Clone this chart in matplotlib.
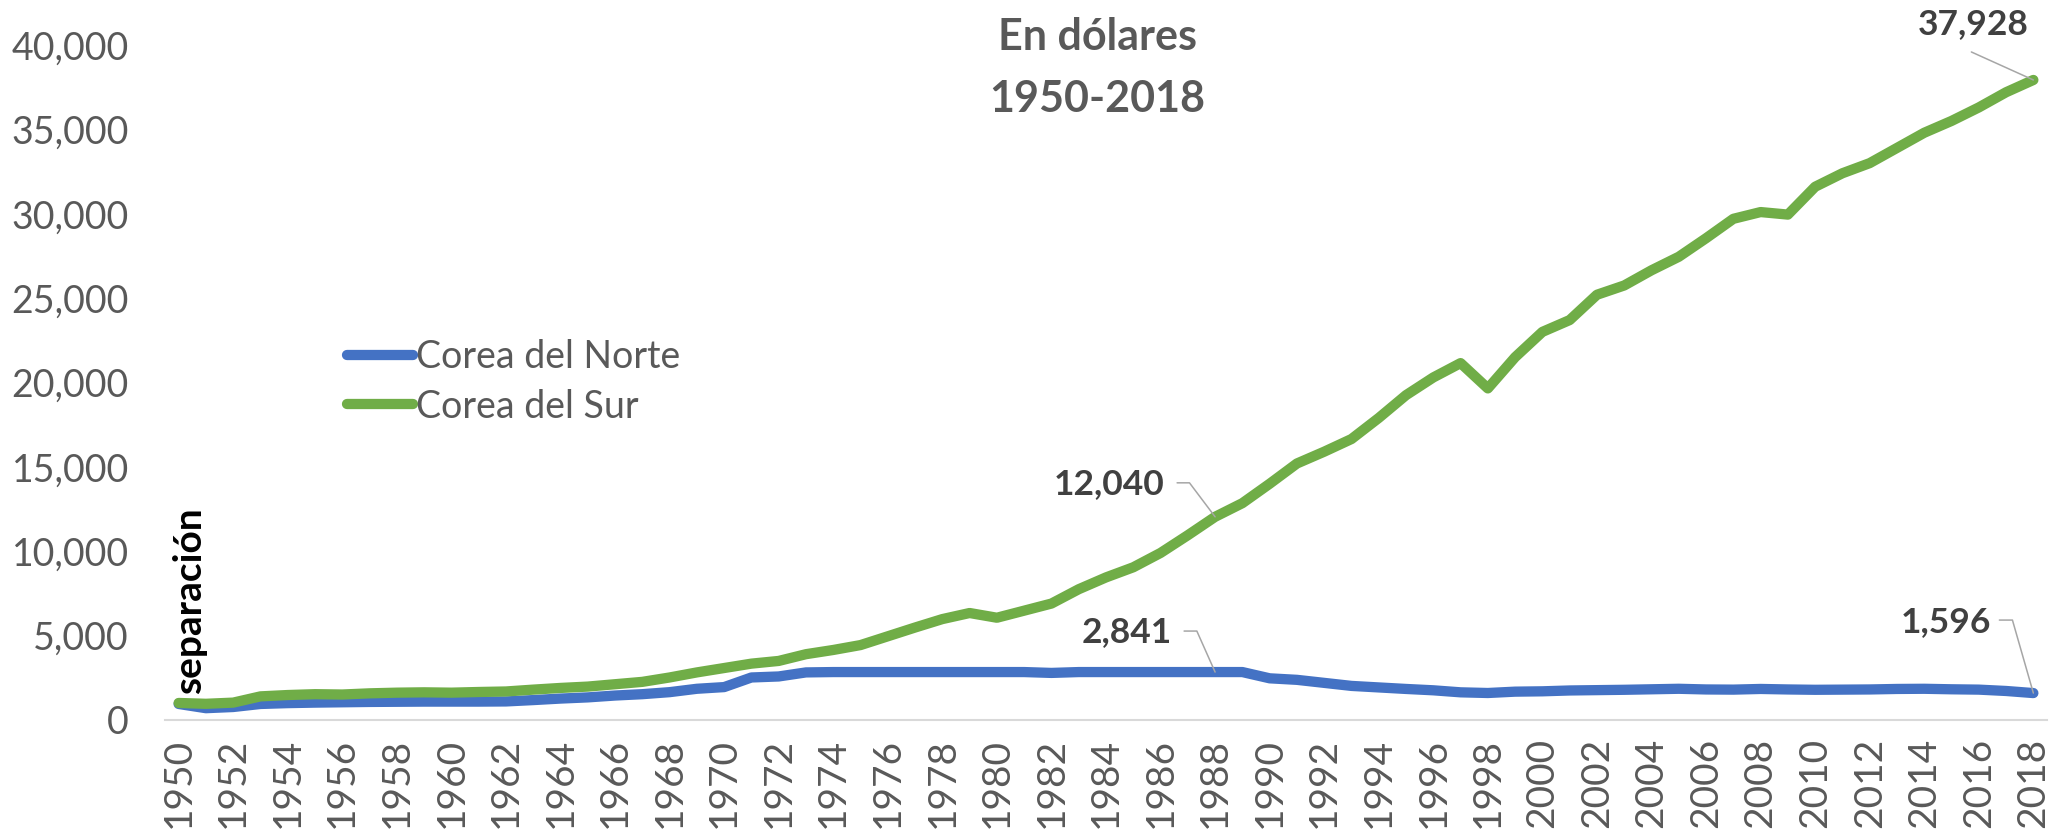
import matplotlib as mpl
mpl.use('Agg')
import matplotlib.pyplot as plt
from matplotlib.ticker import FuncFormatter

plt.rcParams['font.family'] = ['Lato', 'DejaVu Sans']

# PIB per capita, Corea del Norte vs Corea del Sur, 1950-2018
years = list(range(1950, 2019))

norte = [950, 700, 770, 950, 1000, 1030, 1050, 1070, 1080, 1090,          # 1950-59
         1090, 1090, 1100, 1180, 1270, 1340, 1450, 1530, 1650, 1850,      # 1960-69
         1950, 2520, 2580, 2820, 2841, 2841, 2841, 2841, 2841, 2841,      # 1970-79
         2841, 2841, 2790, 2841, 2841, 2841, 2841, 2841, 2841, 2841,      # 1980-89
         2470, 2380, 2200, 2020, 1930, 1840, 1760, 1640, 1600, 1680,      # 1990-99
         1700, 1750, 1770, 1790, 1820, 1850, 1810, 1800, 1840, 1810,      # 2000-09
         1790, 1800, 1810, 1840, 1850, 1820, 1800, 1720, 1596]            # 2010-18

sur = [1010, 960, 1030, 1400, 1480, 1530, 1510, 1580, 1620, 1640,         # 1950-59
       1620, 1660, 1690, 1800, 1900, 1980, 2120, 2260, 2520, 2820,        # 1960-69
       3080, 3340, 3500, 3900, 4150, 4440, 4960, 5480, 5980, 6340,        # 1970-79
       6060, 6480, 6900, 7750, 8450, 9050, 9900, 10950, 12040, 12850,     # 1980-89
       14000, 15200, 15900, 16650, 17900, 19250, 20300, 21150, 19650, 21500,  # 1990-99
       23000, 23700, 25200, 25750, 26650, 27450, 28550, 29700, 30100, 29950,  # 2000-09
       31600, 32400, 33000, 33900, 34800, 35500, 36300, 37200, 37928]     # 2010-18

series_names = ['Corea del Norte', 'Corea del Sur']
title_lines = ['En dólares', '1950-2018']
tick_years = years[::2]

gray = '#595959'
blue = '#4472C4'
green = '#70AD47'

W, H = 2066, 831
fig = plt.figure(figsize=(W / 100, H / 100), dpi=100)
ax = fig.add_axes([165 / W, 111 / H, (2047 - 165) / W, 675 / H])

ax.plot(years, norte, color=blue, lw=7.4, solid_capstyle='round',
        solid_joinstyle='round', label=series_names[0], zorder=3)
ax.plot(years, sur, color=green, lw=7.4, solid_capstyle='round',
        solid_joinstyle='round', label=series_names[1], zorder=3)

ax.set_xlim(1949.5, 2018.5)
ax.set_ylim(0, 40000)
ax.set_yticks(range(0, 40001, 5000))
ax.yaxis.set_major_formatter(FuncFormatter(lambda v, p: '{:,.0f}'.format(v)))
ax.set_xticks(tick_years)
ax.set_xticklabels([str(y) for y in tick_years], rotation=90)
ax.tick_params(axis='y', length=0, pad=26, labelsize=27, labelcolor=gray)
ax.tick_params(axis='x', length=0, pad=13, labelsize=28, labelcolor=gray)

for s in ['top', 'right', 'left']:
    ax.spines[s].set_visible(False)
ax.spines['bottom'].set_color('#D9D9D9')
ax.spines['bottom'].set_linewidth(1.5)


def px(dx, dy):
    # pixel offset (screen down = +dy) to offset points
    return (dx * 0.72, -dy * 0.72)


# data labels with leader lines
labels = [
    (sur, 2018, px(-60, -56), 'center', px(-62, -28), 'arc3,rad=0'),
    (sur, 1988, px(-51, -33), 'right', px(-38, -34), 'angle,angleA=0,angleB=127,rad=0'),
    (norte, 1988, px(-43, -40), 'right', px(-31, -41), 'angle,angleA=0,angleB=114,rad=0'),
    (norte, 2018, px(-42, -71), 'right', px(-34, -73), 'angle,angleA=0,angleB=106,rad=0'),
]
for ser, yr, toff, ha, loff, cstyle in labels:
    val = ser[years.index(yr)]
    ax.annotate('{:,}'.format(val), xy=(yr, val), xytext=toff, textcoords='offset points',
                ha=ha, va='center', fontsize=25.5, fontweight='bold', color='#404040')
    ax.annotate('', xy=(yr, val), xytext=loff, textcoords='offset points',
                arrowprops=dict(arrowstyle='-', color='#A6A6A6', lw=1.1,
                                shrinkA=0, shrinkB=0, connectionstyle=cstyle))

ax.annotate('separación', xy=(years[0], 0), xytext=(8, 19), textcoords='offset points',
            rotation=90, ha='center', va='bottom', fontsize=28, fontweight='bold',
            color='black')

xc = 1097 / W
fig.text(xc, 1 - 37 / H, title_lines[0], ha='center', va='center', fontsize=31,
         fontweight='bold', color=gray)
fig.text(xc, 1 - 99 / H, title_lines[1], ha='center', va='center', fontsize=31,
         fontweight='bold', color=gray)

leg = ax.legend(loc='center left', bbox_to_anchor=(347 / W, 1 - 382 / H),
                bbox_transform=fig.transFigure, frameon=False, fontsize=27,
                handlelength=1.75, handletextpad=0.08, labelspacing=0.35,
                borderpad=0, borderaxespad=0, labelcolor=gray)

fig.savefig('out.png', dpi=100, facecolor='white')
